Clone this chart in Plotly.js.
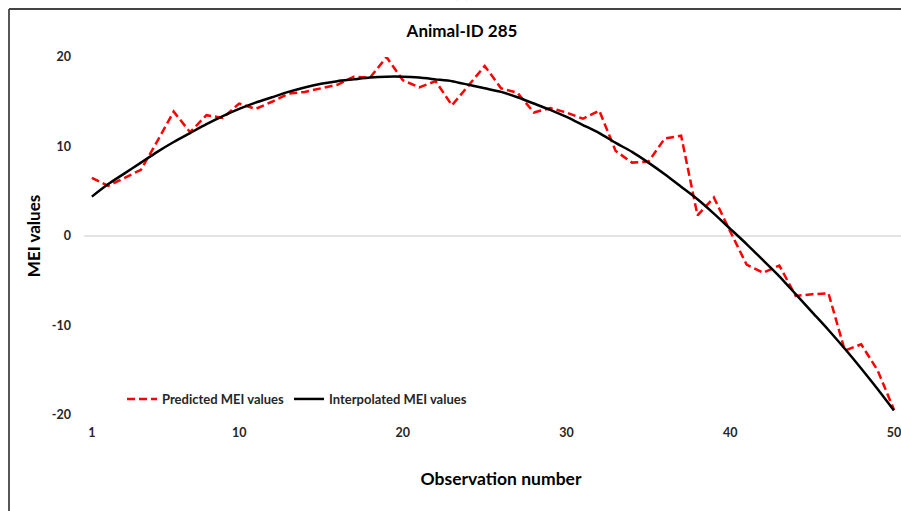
<!DOCTYPE html>
<html>
<head>
<meta charset="utf-8">
<script src="https://cdn.plot.ly/plotly-3.0.1.min.js"></script>
<style>
  html, body { margin: 0; padding: 0; background: #ffffff; overflow: hidden; }
  #chart { width: 918px; height: 511px; }
</style>
</head>
<body>
<div id="chart"></div>
<script>
// Observation numbers
const observations = [1,2,3,4,5,6,7,8,9,10,11,12,13,14,15,16,17,18,19,20,21,22,23,24,25,
  26,27,28,29,30,31,32,33,34,35,36,37,38,39,40,41,42,43,44,45,46,47,48,49,50];

// Predicted MEI values (red dashed)
const predictedMEI = [6.5,5.6,6.5,7.4,10.6,13.9,11.6,13.5,13.2,14.8,
  14.2,15.0,15.9,16.1,16.5,16.9,17.8,17.7,20.0,17.4,
  16.6,17.3,14.6,16.8,19.0,16.5,16.0,13.8,14.3,13.8,
  13.1,14.0,9.5,8.2,8.3,10.9,11.2,2.3,4.3,0.5,
  -3.2,-4.1,-3.3,-6.7,-6.5,-6.4,-12.8,-12.1,-15.0,-19.4];

// Interpolated MEI values (black solid)
const interpolatedMEI = [4.4,5.8,7.0,8.2,9.4,10.5,11.5,12.5,13.4,14.2,
  14.9,15.5,16.1,16.6,17.0,17.3,17.5,17.7,17.8,17.8,
  17.7,17.5,17.3,16.9,16.5,16.1,15.5,14.8,14.1,13.3,
  12.4,11.5,10.4,9.4,8.2,6.9,5.5,4.1,2.5,0.8,
  -0.9,-2.7,-4.5,-6.5,-8.5,-10.5,-12.6,-14.8,-17.1,-19.5];

const xTickVals = [1,10,20,30,40,50];
const yTickVals = [-20,-10,0,10,20];

const FONT = 'Lato, "Open Sans", "Liberation Sans", sans-serif';

const traces = [
  {
    x: observations, y: predictedMEI, type: 'scatter', mode: 'lines',
    name: 'Predicted MEI values',
    line: { color: '#ff0000', width: 2.5, dash: '8px,4px' }
  },
  {
    x: observations, y: interpolatedMEI, type: 'scatter', mode: 'lines',
    name: 'Interpolated MEI values',
    line: { color: '#000000', width: 2.5, shape: 'spline', smoothing: 0.6 }
  }
];

const layout = {
  width: 918, height: 511,
  margin: { l: 84, r: 0, t: 57, b: 96, pad: 0 },
  paper_bgcolor: '#ffffff', plot_bgcolor: '#ffffff',
  font: { family: FONT, color: '#262626' },
  title: {
    text: 'Animal-ID 285',
    font: { family: FONT, size: 17, weight: 'bold', color: '#000000' },
    xref: 'container', yref: 'container',
    x: 462/918, xanchor: 'center',
    y: 1 - 31/511, yanchor: 'middle'
  },
  showlegend: true,
  legend: {
    orientation: 'h',
    x: (122 - 84) / 834, xanchor: 'left',
    y: (415 - 399) / 358, yanchor: 'middle',
    bgcolor: 'rgba(0,0,0,0)',
    font: { family: FONT, size: 13, weight: 'bold', color: '#262626' },
    itemwidth: 30, tracegroupgap: 0
  },
  xaxis: {
    range: [0.52, 51.47],
    tickmode: 'array', tickvals: xTickVals, ticktext: xTickVals.map(String),
    showgrid: false, zeroline: false, showline: false, ticks: '',
    ticklabelstandoff: 8,
    tickfont: { family: FONT, size: 12.5, weight: 'bold', color: '#262626' },
    title: {
      text: 'Observation number',
      font: { family: FONT, size: 17.5, weight: 'bold', color: '#000000' },
      standoff: 34
    }
  },
  yaxis: {
    range: [-20, 20],
    tickmode: 'array', tickvals: yTickVals, ticktext: yTickVals.map(String),
    showgrid: false, zeroline: true, zerolinecolor: '#e4e4e4', zerolinewidth: 1.5,
    showline: false, ticks: '',
    ticklabelstandoff: 12,
    tickfont: { family: FONT, size: 12.5, weight: 'bold', color: '#262626' },
    title: {
      text: 'MEI values',
      font: { family: FONT, size: 17, weight: 'bold', color: '#000000' },
      standoff: 6
    }
  },
  shapes: [
    { type: 'line', xref: 'paper', yref: 'paper',
      x0: (9 - 84) / 834, x1: (918 - 84) / 834,
      y0: (415 - 9) / 358, y1: (415 - 9) / 358,
      line: { color: '#444444', width: 1.8 } },
    { type: 'line', xref: 'paper', yref: 'paper',
      x0: (9 - 84) / 834, x1: (9 - 84) / 834,
      y0: (415 - 9) / 358, y1: (415 - 520) / 358,
      line: { color: '#444444', width: 1.8 } }
  ],
  annotations: [
    { text: '(c)', xref: 'paper', yref: 'paper',
      x: (461 - 84) / 834, y: (415 + 8) / 358,
      xanchor: 'center', yanchor: 'middle', showarrow: false,
      font: { family: FONT, size: 16, color: '#333333' } }
  ]
};

Plotly.newPlot('chart', traces, layout, { staticPlot: true, displayModeBar: false });
</script>
</body>
</html>
